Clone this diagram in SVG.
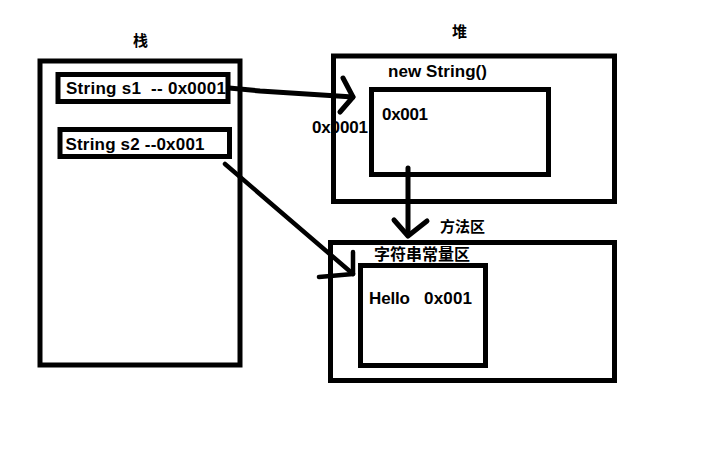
<svg xmlns="http://www.w3.org/2000/svg" width="722" height="473" viewBox="0 0 722 473">
<style>
.box{fill:none;stroke:#000;stroke-width:5}
.t{font-family:"Liberation Sans","Noto Sans CJK SC",sans-serif;font-weight:bold;font-size:17px;fill:#000;white-space:pre}
.c{font-family:"Noto Sans CJK SC","Liberation Sans",sans-serif;font-weight:bold;font-size:15px;fill:#000}
.ln{fill:none;stroke:#000;stroke-width:5;stroke-linecap:round;stroke-linejoin:round}
</style>
<rect width="722" height="473" fill="#fff"/>
<g id="stack">
<text class="c" x="133" y="46">栈</text>
<rect class="box" x="40" y="61" width="200" height="304"/>
</g>
<g id="s1">
<rect class="box" x="58" y="74.5" width="170" height="27"/>
<text class="t" x="66" y="94" xml:space="preserve" textLength="160" lengthAdjust="spacing">String s1  -- 0x0001</text>
</g>
<g id="s2">
<rect class="box" x="60" y="129.5" width="169.5" height="27"/>
<text class="t" x="65.5" y="149.5" textLength="139" lengthAdjust="spacing">String s2 --0x001</text>
</g>
<g id="heap">
<text class="c" x="452" y="37">堆</text>
<rect class="box" x="333.5" y="56" width="281" height="145.5"/>
<text class="t" x="388" y="77" textLength="99" lengthAdjust="spacing">new String()</text>
</g>
<g id="heapobj">
<rect class="box" x="371.5" y="89.5" width="177" height="85"/>
<text class="t" x="382" y="120" textLength="46" lengthAdjust="spacing">0x001</text>
</g>
<g id="method">
<text class="c" x="440" y="232">方法区</text>
<rect class="box" x="330.5" y="242.5" width="284" height="138"/>
<text class="c" x="374" y="260" style="font-size:16px">字符串常量区</text>
</g>
<g id="pool">
<rect class="box" x="360.5" y="265.5" width="125" height="100"/>
<text class="t" x="369" y="304" textLength="41" lengthAdjust="spacing">Hello</text>
<text class="t" x="424" y="304" textLength="48" lengthAdjust="spacing">0x001</text>
</g>
<g id="connectors">
<polyline class="ln" points="229,88 260,91 353,97"/>
<polyline class="ln" points="343,78 353,97 340,112"/>
<text class="t" x="312" y="133" textLength="56" lengthAdjust="spacing">0x0001</text>
<polyline class="ln" points="408,168 408,235"/>
<polyline class="ln" points="394,220 408,236 427,221"/>
<polyline class="ln" style="stroke-width:4.5" points="225,164 353,274"/>
<polyline class="ln" style="stroke-width:4.5" points="353,252 353,274 319,277"/>
</g>
</svg>
